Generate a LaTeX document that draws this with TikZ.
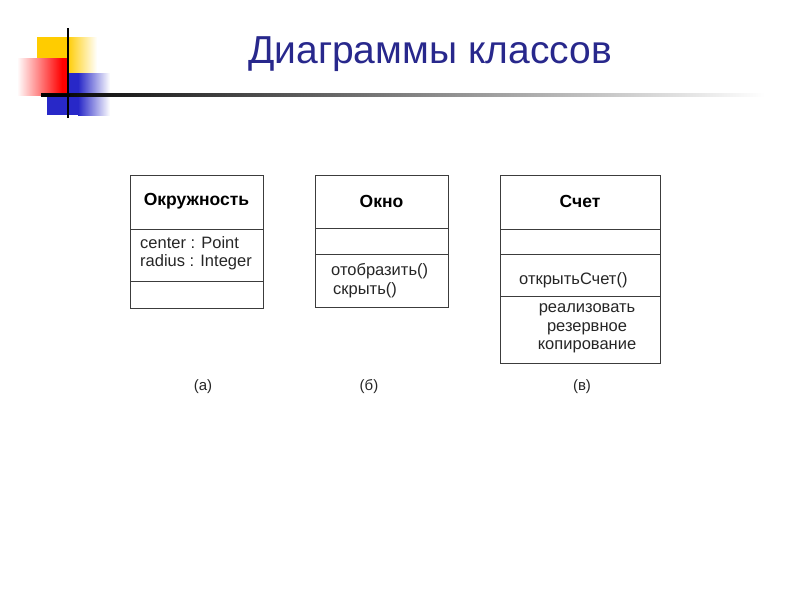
\documentclass[tikz,border=0pt]{standalone}
\usepackage{fontspec}
\setmainfont{Liberation Sans}
\definecolor{titleblue}{RGB}{40,40,140}
\definecolor{deco yellow}{RGB}{255,204,0}
\definecolor{deco red}{RGB}{255,0,0}
\definecolor{deco blue}{RGB}{40,40,200}
\definecolor{boxline}{RGB}{60,60,60}
\tikzset{
  umlbox/.style={draw=boxline, line width=1pt},
  divider/.style={draw=boxline, line width=1pt},
  head/.style={font=\fontsize{17.5}{20}\selectfont\bfseries, text=black},
  body/.style={font=\fontsize{16.5}{19}\selectfont, text=black!85, inner sep=0pt},
  caption/.style={font=\fontsize{15}{18}\selectfont, text=black!85}
}
\begin{document}
\begin{tikzpicture}[x=1pt,y=-1pt]
\useasboundingbox (0,0) rectangle (800,600);
% decoration
\fill[deco yellow] (37,37) rectangle (67,73);
\shade[left color=deco yellow, right color=white] (67,37) rectangle (97,73);
\fill[deco blue] (47,73) rectangle (78,115);
\shade[left color=deco blue, right color=white] (78,73) rectangle (110,115);
\shade[left color=white, right color=deco red] (17,58) rectangle (62,95);
\fill[deco red] (62,58) rectangle (68,95);
\shade[left color=black, right color=white] (41,93.5) rectangle (765,96.5);
\fill[black] (41,93.5) rectangle (70,96.5);
\draw[black, line width=1.6pt] (68,28) -- (68,118);
% title
\node[text=titleblue, font=\fontsize{39}{44}\selectfont] (title) at (430,54) {Диаграммы классов};
% box a
\draw[umlbox] (130,175) rectangle (263,308);
\draw[divider] (130,229) -- (263,229);
\draw[divider] (130,281) -- (263,281);
\node[head] (a1) at (196.5,201) {Окружность};
\node[body, anchor=west] (a2) at (140,243) {center : Point};
\node[body, anchor=west] (a3) at (140,262) {radius : Integer};
% box b
\draw[umlbox] (315,175) rectangle (448,307);
\draw[divider] (315,228) -- (448,228);
\draw[divider] (315,254) -- (448,254);
\node[head] (b1) at (381.5,201) {Окно};
\node[body, anchor=west] (b2) at (331,271) {отобразить()};
\node[body, anchor=west] (b3) at (333,290) {скрыть()};
% box c
\draw[umlbox] (500,175) rectangle (660,363);
\draw[divider] (500,229) -- (660,229);
\draw[divider] (500,254) -- (660,254);
\draw[divider] (500,296) -- (660,296);
\node[head] (c1) at (580,201) {Счет};
\node[body, anchor=west] (c2) at (519,280) {открытьСчет()};
\node[body] (c3) at (587,310) {реализовать};
\node[body] (c4) at (587,328.5) {резервное};
\node[body] (c5) at (587,347) {копирование};
% captions
\node[caption] (la) at (203,387) {(а)};
\node[caption] (lb) at (369,387) {(б)};
\node[caption] (lc) at (582,387) {(в)};
\end{tikzpicture}
\end{document}
